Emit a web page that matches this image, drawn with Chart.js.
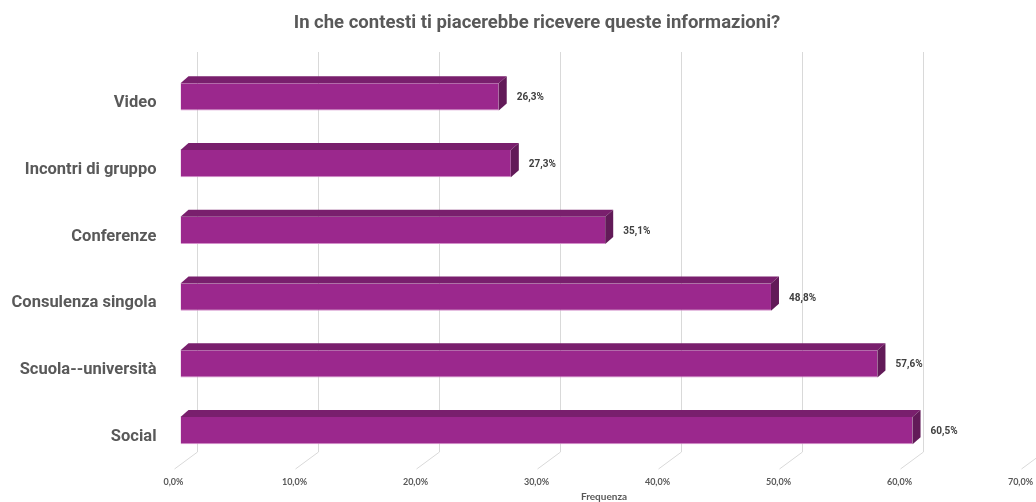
<!DOCTYPE html>
<html>
<head>
<meta charset="utf-8">
<script src="https://cdn.jsdelivr.net/npm/chart.js@4/dist/chart.umd.min.js"></script>
<style>
	html, body { margin: 0; padding: 0; background: #fff; }
	#wrap { position: relative; width: 1036px; height: 502px; }
</style>
</head>
<body>
<div id="wrap"><canvas id="chart"></canvas></div>
<script>
const categories = ['Video', 'Incontri di gruppo', 'Conferenze', 'Consulenza singola', 'Scuola--università', 'Social'];
const values = [26.3, 27.3, 35.1, 48.8, 57.6, 60.5];
const xMin = 0;
const xMax = 70;
const xStep = 10;
const chartTitle = 'In che contesti ti piacerebbe ricevere queste informazioni?';

const FRONT = '#9b288d';
const TOP = '#791f6d';
const SIDE = '#621a58';
const GRID = '#d9d9d9';

// depth of the back wall and of the bars
const WALL_DX = 16;
const BAR_DX = 8;
const BAR_DY = 7;

const pct = (v) => v.toFixed(1).replace('.', ',') + '%';

// back wall grid lines with the slanted floor lines, the 3d faces of the bars, title
const wallPlugin = {
	id: 'wall',
	beforeDatasetsDraw(chart) {
		let {ctx, scales: {x}} = chart;
		ctx.save();
		ctx.strokeStyle = GRID;
		ctx.lineWidth = 1;
		x.ticks.forEach((t) => {
			let px = Math.round(x.getPixelForValue(t.value)) + 0.5;
			ctx.beginPath();
			ctx.moveTo(px + WALL_DX, 52);
			ctx.lineTo(px + WALL_DX, 452);
			ctx.lineTo(px - 7, 469);
			ctx.stroke();
		});
		ctx.restore();
	},
	afterDatasetsDraw(chart) {
		let {ctx} = chart;
		let meta = chart.getDatasetMeta(0);
		ctx.save();
		meta.data.forEach((bar, i) => {
			let {x, y, base, height} = bar.getProps(['x', 'y', 'base', 'height'], true);
			let top = y - height / 2;
			let bottom = y + height / 2;
			// top face
			ctx.fillStyle = TOP;
			ctx.beginPath();
			ctx.moveTo(base, top);
			ctx.lineTo(base + BAR_DX, top - BAR_DY);
			ctx.lineTo(x + BAR_DX, top - BAR_DY);
			ctx.lineTo(x, top);
			ctx.closePath();
			ctx.fill();
			// right face
			ctx.fillStyle = SIDE;
			ctx.beginPath();
			ctx.moveTo(x, top);
			ctx.lineTo(x + BAR_DX, top - BAR_DY);
			ctx.lineTo(x + BAR_DX, bottom - BAR_DY);
			ctx.lineTo(x, bottom);
			ctx.closePath();
			ctx.fill();
			// value label
			ctx.fillStyle = '#404040';
			ctx.font = 'bold 10px Roboto';
			ctx.textAlign = 'left';
			ctx.textBaseline = 'middle';
			ctx.fillText(pct(values[i]), x + BAR_DX + 10, y + 1);
		});
		ctx.restore();
	},
	afterDraw(chart) {
		let {ctx} = chart;
		ctx.save();
		ctx.fillStyle = '#595959';
		ctx.font = 'bold 18.5px Roboto';
		ctx.textAlign = 'center';
		ctx.textBaseline = 'middle';
		ctx.fillText(chartTitle, 537, 23);
		ctx.restore();
	},
};

new Chart(document.getElementById('chart'), {
	type: 'bar',
	data: {
		labels: categories,
		datasets: [{
			data: values,
			backgroundColor: FRONT,
			borderColor: '#d38fca',
			borderWidth: {top: 0, right: 0, bottom: 1, left: 0},
			borderSkipped: false,
			categoryPercentage: 1,
			barPercentage: 0.405,
		}],
	},
	options: {
		indexAxis: 'y',
		responsive: true,
		maintainAspectRatio: false,
		animation: false,
		layout: {
			padding: {left: 0, right: 8.5, top: 63.5, bottom: 0},
		},
		plugins: {
			legend: {display: false},
			tooltip: {enabled: false},
			title: {display: false},
		},
		scales: {
			x: {
				min: xMin,
				max: xMax,
				grid: {display: false, drawTicks: false},
				border: {display: false},
				ticks: {
					stepSize: xStep,
					padding: 13,
					labelOffset: -7,
					color: '#595959',
					font: {family: 'Lato', size: 9, weight: 'bold'},
					callback: (v) => pct(v),
				},
				title: {
					display: true,
					text: 'Frequenza',
					color: '#595959',
					font: {family: 'Lato', size: 10, weight: 'bold'},
					padding: {top: 0, bottom: -1},
				},
				afterFit(scale) {
					scale.height = 38;
					scale.paddingLeft = 0;
					scale.paddingRight = 0;
				},
			},
			y: {
				grid: {display: false, drawTicks: false},
				border: {display: false},
				ticks: {
					padding: 24,
					labelOffset: 6,
					color: '#595959',
					font: {family: 'Roboto', size: 16.5, weight: 'bold'},
				},
				afterFit(scale) {
					scale.width = 180.5;
					scale.paddingTop = 0;
					scale.paddingBottom = 0;
				},
			},
		},
	},
	plugins: [wallPlugin],
});
</script>
</body>
</html>
